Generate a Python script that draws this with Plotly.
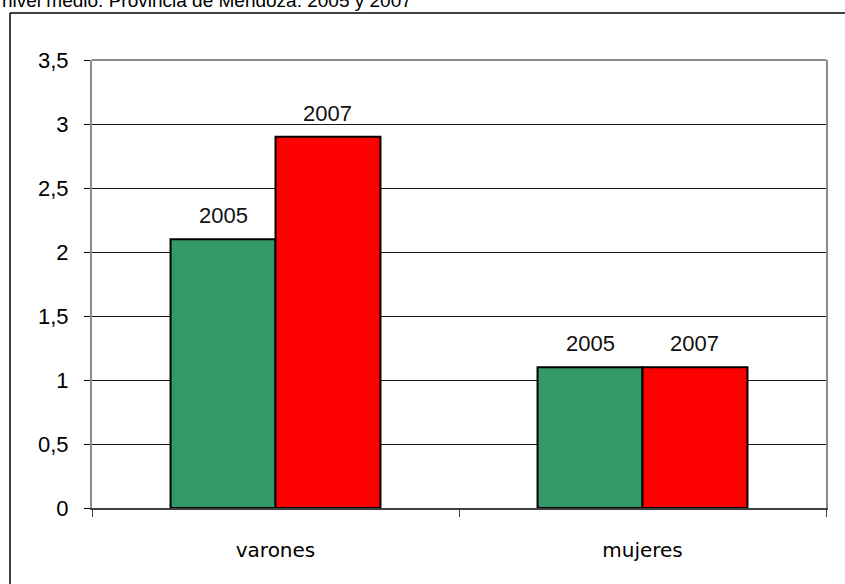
import plotly.graph_objects as go

categories = ["varones", "mujeres"]
years = ["2005", "2007"]
values_2005 = [2.1, 1.1]
values_2007 = [2.9, 1.1]
y_ticks = [0, 0.5, 1, 1.5, 2, 2.5, 3, 3.5]
title_text = "nivel medio. Provincia de Mendoza. 2005 y 2007"

colors = {"2005": "#339966", "2007": "#FF0000"}
series = {"2005": values_2005, "2007": values_2007}

W, H = 845, 584
L, R, T, B = 92, 19, 60, 76
pw, ph = W - L - R, H - T - B

fig = go.Figure()
for yr in years:
    fig.add_trace(go.Bar(
        x=categories, y=series[yr], name=yr,
        marker=dict(color=colors[yr], line=dict(color="#000000", width=2)),
        showlegend=False, hoverinfo="skip",
    ))

# bar labels (year above each bar)
bargap = 0.428
bar_px = pw / len(categories) * (1 - bargap) / len(years)
annotations = []
for i, yr in enumerate(years):
    shift = (i - (len(years) - 1) / 2) * bar_px
    for cat, v in zip(categories, series[yr]):
        annotations.append(dict(
            x=cat, y=v, xref="x", yref="y", text=yr, showarrow=False,
            xshift=shift, yshift=9, yanchor="bottom",
            font=dict(family="Liberation Sans, Arial", size=22, color="#111111"),
        ))

annotations.append(dict(
    x=-L / pw, y=(ph + 47) / ph, xref="paper", yref="paper",
    text=title_text, showarrow=False, xanchor="left", yanchor="bottom",
    font=dict(family="Liberation Sans, Arial", size=19, color="#000000"),
))

def px_x(p):
    return (p - L) / pw

def px_y(p):
    return (H - B - p) / ph

shapes = [
    # outer frame (left and top edges visible)
    dict(type="line", xref="paper", yref="paper", x0=px_x(10), x1=px_x(10),
         y0=px_y(13), y1=px_y(600), line=dict(color="#000000", width=1.5)),
    dict(type="line", xref="paper", yref="paper", x0=px_x(10), x1=px_x(860),
         y0=px_y(13), y1=px_y(13), line=dict(color="#000000", width=1.5)),
    # plot area top border
    dict(type="line", xref="paper", yref="paper", x0=0, x1=1, y0=1, y1=1,
         line=dict(color="#8c8c8c", width=2)),
]

fig.update_layout(
    width=W, height=H,
    margin=dict(l=L, r=R, t=T, b=B),
    paper_bgcolor="#ffffff", plot_bgcolor="#ffffff",
    barmode="group", bargap=bargap, bargroupgap=0,
    separators=",.",
    annotations=annotations, shapes=shapes,
    xaxis=dict(
        type="category", showgrid=False,
        showline=True, linecolor="#404040", linewidth=2,
        ticks="outside", tickson="boundaries", ticklen=7, tickcolor="#404040", tickwidth=1,
        ticklabelstandoff=23,
        tickfont=dict(family="DejaVu Sans, Verdana", size=20, color="#000000"),
    ),
    yaxis=dict(
        range=[0, 3.5], tickvals=y_ticks,
        showgrid=True, gridcolor="#1a1a1a", gridwidth=1,
        showline=True, linecolor="#8c8c8c", linewidth=2, mirror=True,
        ticks="outside", ticklen=6, tickcolor="#000000", tickwidth=1,
        ticklabelstandoff=11, zeroline=False,
        tickfont=dict(family="Liberation Sans, Arial", size=22, color="#000000"),
    ),
)

fig.write_html(
    "out.html",
    config={"displayModeBar": False, "staticPlot": True},
    post_script="document.body.style.margin='0';document.body.style.overflow='hidden';",
)
